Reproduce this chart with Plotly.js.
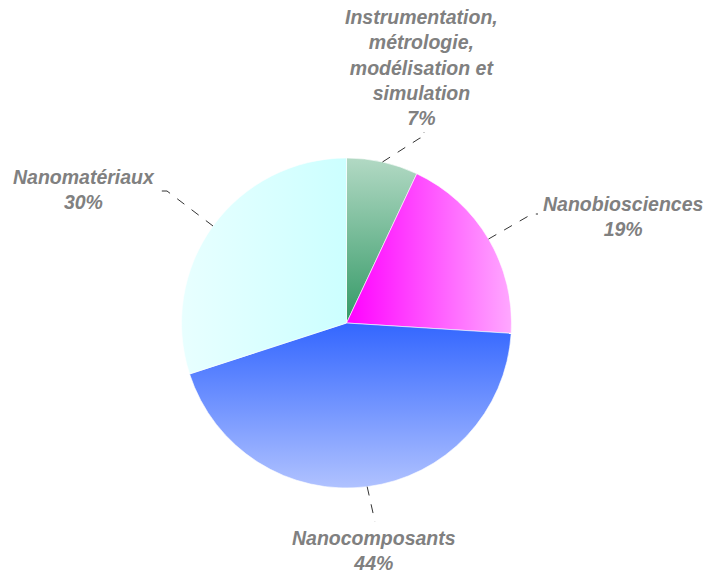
<!DOCTYPE html>
<html>
<head>
<meta charset="utf-8">
<script src="https://cdn.plot.ly/plotly-3.0.1.min.js"></script>
<style>html,body{margin:0;padding:0;background:#fff;}#chart{width:707px;height:573px;}</style>
</head>
<body>
<div id="chart"></div>
<script>
// ---- data ----
const categories = ['Instrumentation, métrologie, modélisation et simulation', 'Nanobiosciences', 'Nanocomposants', 'Nanomatériaux'];
const displayLabels = ['Instrumentation,<br>métrologie,<br>modélisation et<br>simulation', 'Nanobiosciences', 'Nanocomposants', 'Nanomatériaux'];
const percentages = [7, 19, 44, 30];

// ---- styles ----
const W = 707, H = 573;
const CX = 346.5, CY = 323, R = 165;
const solidColors = ['#6fb993', '#ff66ff', '#7090ff', '#d9ffff'];
// gradient: [from, to, x1, y1, x2, y2]
const gradients = [
  ['#b2d9c4', '#339966', 0, 0, 0, 1],
  ['#ff00ff', '#ffa8ff', 0, 0, 1, 0],
  ['#3366ff', '#b0c2ff', 0, 0, 0, 1],
  ['#e8ffff', '#ccffff', 0, 0, 1, 0]
];
// label block centers and leader elbows (px)
const labelPos = [[421, 67], [623, 217], [374, 550], [84, 190]];
const leaderTail = [
  [[420, 138], [424, 138], [424, 132]],
  [[532, 214], [538, 214]],
  [[375, 522]],
  [[167, 191], [160, 191]]
];

const px = x => x / W;
const py = y => 1 - y / H;

const total = percentages.reduce((a, b) => a + b, 0);
let cum = 0;
const shapes = [];
const annotations = [];
percentages.forEach((v, i) => {
  const th = (cum + v / 2) / total * 2 * Math.PI;
  cum += v;
  const ex = CX + R * Math.sin(th), ey = CY - R * Math.cos(th);
  let path = 'M' + px(ex) + ',' + py(ey);
  leaderTail[i].forEach(p => { path += ' L' + px(p[0]) + ',' + py(p[1]); });
  shapes.push({type: 'path', xref: 'paper', yref: 'paper', path: path,
    line: {color: '#333333', width: 1, dash: 'dash'}});
  annotations.push({xref: 'paper', yref: 'paper', x: px(labelPos[i][0]), y: py(labelPos[i][1]),
    xanchor: 'center', yanchor: 'middle', align: 'center', showarrow: false,
    text: '<b><i>' + displayLabels[i] + '<br>' + v + '%</i></b>',
    font: {family: 'Liberation Sans, Arial, sans-serif', size: 19.5, color: '#808080'}});
});

const trace = {
  type: 'pie',
  labels: categories,
  values: percentages,
  sort: false,
  direction: 'clockwise',
  rotation: 0,
  textinfo: 'none',
  hoverinfo: 'label+percent',
  marker: {colors: solidColors, line: {color: '#ffffff', width: 0.6}},
  domain: {x: [px(CX - R), px(CX + R)], y: [py(CY + R), py(CY - R)]},
  showlegend: false
};

const layout = {
  width: W, height: H,
  margin: {l: 0, r: 0, t: 0, b: 0},
  paper_bgcolor: '#ffffff',
  showlegend: false,
  shapes: shapes,
  annotations: annotations
};

Plotly.newPlot('chart', [trace], layout, {displayModeBar: false, staticPlot: true}).then(gd => {
  const svg = gd.querySelector('svg.main-svg');
  const NS = 'http://www.w3.org/2000/svg';
  let defs = svg.querySelector('defs');
  if (!defs) { defs = document.createElementNS(NS, 'defs'); svg.insertBefore(defs, svg.firstChild); }
  gradients.forEach((g, i) => {
    const lg = document.createElementNS(NS, 'linearGradient');
    lg.setAttribute('id', 'sliceGrad' + i);
    lg.setAttribute('x1', g[2]); lg.setAttribute('y1', g[3]);
    lg.setAttribute('x2', g[4]); lg.setAttribute('y2', g[5]);
    [[0, g[0]], [1, g[1]]].forEach(s => {
      const st = document.createElementNS(NS, 'stop');
      st.setAttribute('offset', s[0]);
      st.setAttribute('stop-color', s[1]);
      lg.appendChild(st);
    });
    defs.appendChild(lg);
  });
  const slices = gd.querySelectorAll('g.slice path.surface');
  slices.forEach((p, i) => {
    if (gradients[i]) p.style.fill = 'url(#sliceGrad' + i + ')';
  });
});
</script>
</body>
</html>
